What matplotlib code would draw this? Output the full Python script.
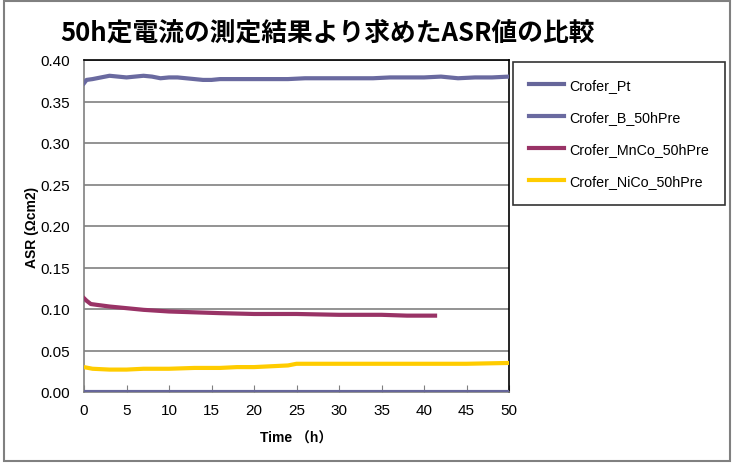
import numpy as np
import matplotlib.pyplot as plt
from matplotlib.patches import Rectangle

plt.rcParams['font.family'] = ['Liberation Sans', 'Noto Sans CJK JP', 'DejaVu Sans']

# time axis (h) and ASR values (Ωcm2)
t_pt = [0, 10, 20, 30, 40, 50]
asr_pt = [0.0, 0.0, 0.0, 0.0, 0.0, 0.0]

t_b = [0, 0.3, 1, 2, 3, 4, 5, 6, 7, 8, 9, 10, 11, 12, 13, 14, 15, 16, 18, 20,
       22, 24, 26, 28, 30, 32, 34, 36, 38, 40, 42, 44, 46, 48, 50]
asr_b = [0.372, 0.376, 0.377, 0.379, 0.381, 0.380, 0.379, 0.380, 0.381, 0.380,
         0.378, 0.379, 0.379, 0.378, 0.377, 0.376, 0.376, 0.377, 0.377, 0.377,
         0.377, 0.377, 0.378, 0.378, 0.378, 0.378, 0.378, 0.379, 0.379, 0.379,
         0.380, 0.378, 0.379, 0.379, 0.380]

t_mnco = [0, 0.3, 0.8, 1.5, 3, 5, 7, 10, 13, 16, 20, 25, 30, 35, 38, 41.3]
asr_mnco = [0.113, 0.110, 0.106, 0.105, 0.103, 0.101, 0.099, 0.097, 0.096, 0.095,
            0.094, 0.094, 0.093, 0.093, 0.092, 0.092]

t_nico = [0, 1, 3, 5, 7, 10, 13, 16, 18, 20, 22, 24, 25, 27, 30, 35, 40, 45, 50]
asr_nico = [0.030, 0.028, 0.027, 0.027, 0.028, 0.028, 0.029, 0.029, 0.030, 0.030,
            0.031, 0.032, 0.034, 0.034, 0.034, 0.034, 0.034, 0.034, 0.035]

fig = plt.figure(figsize=(7.34, 4.64), dpi=100)
ax = fig.add_axes([84/734, 1 - 393/464, (509-84)/734, (393-61)/464])

ax.plot(t_pt, asr_pt, color='#66669a', lw=3, label='Crofer_Pt', zorder=3)
ax.plot(t_b, asr_b, color='#6a6aa0', lw=3, label='Crofer_B_50hPre', zorder=3)
ax.plot(t_mnco, asr_mnco, color='#993366', lw=3, label='Crofer_MnCo_50hPre', zorder=3)
ax.plot(t_nico, asr_nico, color='#ffcc00', lw=3, label='Crofer_NiCo_50hPre', zorder=3)

ax.set_xlim(0, 50)
ax.set_ylim(0, 0.4)
ax.set_xticks(np.arange(0, 51, 5))
ax.set_yticks(np.arange(0, 0.41, 0.05))
ax.set_yticklabels([f'{v:.2f}' for v in np.arange(0, 0.41, 0.05)])
ax.yaxis.grid(True, color='#808080', lw=1.2)
ax.set_axisbelow(True)
ax.tick_params(axis='x', direction='in', length=5, color='#808080', labelsize=11, pad=8)
ax.tick_params(axis='y', length=0, labelsize=11, pad=10)
for s in ['left', 'bottom']:
    ax.spines[s].set_color('#808080')
    ax.spines[s].set_linewidth(1.2)
for s in ['top', 'right']:
    ax.spines[s].set_color('black')
    ax.spines[s].set_linewidth(1.2)

ax.set_ylabel('ASR (Ωcm2)', fontsize=10, fontweight='bold', labelpad=1)
ax.set_xlabel('Time （h）', fontsize=10, fontweight='bold', labelpad=10)

fig.text(328/734, 1 - 33/464, '50h定電流の測定結果より求めたASR値の比較',
         ha='center', va='center', fontsize=18.5, fontweight='bold',
         family=['Noto Sans CJK JP', 'DejaVu Sans'])

leg = fig.legend(loc='upper left', bbox_to_anchor=(513/734, 1 - 63/464),
                 fontsize=10.3, frameon=True, fancybox=False, edgecolor='black',
                 handlelength=2.4, labelspacing=1.25, borderpad=1.15,
                 handletextpad=0.35, borderaxespad=0)
leg.get_frame().set_linewidth(1.2)

fig.patches.append(Rectangle((4/734, 2/464), 726/734, 460/464, transform=fig.transFigure,
                             fill=False, edgecolor='#808080', lw=1.5))

fig.savefig('out.png', dpi=100)
